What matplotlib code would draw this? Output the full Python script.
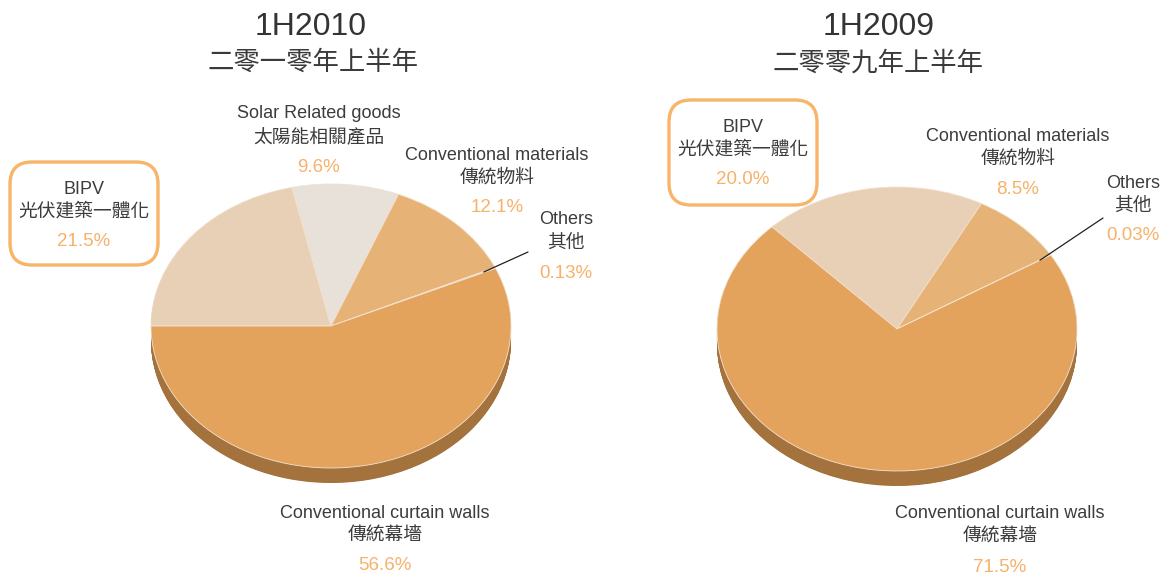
import matplotlib
matplotlib.use('Agg')
import matplotlib.pyplot as plt
from matplotlib.patches import FancyBboxPatch
from matplotlib.transforms import IdentityTransform
import numpy as np

plt.rcParams['font.family'] = ['Liberation Sans', 'Noto Sans CJK TC', 'DejaVu Sans']

W, H = 1167, 575

# ---- data ----
titles = ['1H2010', '1H2009']
titles_zh = ['二零一零年上半年', '二零零九年上半年']

cats_2010 = ['BIPV', 'Solar Related goods', 'Conventional materials', 'Others', 'Conventional curtain walls']
cats_2010_zh = ['光伏建築一體化', '太陽能相關產品', '傳統物料', '其他', '傳統幕墻']
share_2010 = [21.5, 9.6, 12.1, 0.13, 56.6]
pct_2010 = ['21.5%', '9.6%', '12.1%', '0.13%', '56.6%']

cats_2009 = ['BIPV', 'Conventional materials', 'Others', 'Conventional curtain walls']
cats_2009_zh = ['光伏建築一體化', '傳統物料', '其他', '傳統幕墻']
share_2009 = [20.0, 8.5, 0.03, 71.5]
pct_2009 = ['20.0%', '8.5%', '0.03%', '71.5%']

# ---- styling ----
col = {'BIPV': '#e8d0b7', 'Solar Related goods': '#e7e1d9',
       'Conventional materials': '#e6b275', 'Others': '#ede5dc',
       'Conventional curtain walls': '#e3a35c'}
side_col = '#a3723d'
txt_col = '#3c3c3c'
pct_col = '#f6b26b'

RX, RY = 180.0, 142.0     # pie radii in pixels
DEPTH = 15.0 / RY         # pie thickness in y data units

fig = plt.figure(figsize=(W / 100, H / 100), dpi=100)


def draw_pie(left, width, cx, cy, shares, cats, start):
    ax = fig.add_axes([left / W, 0, width / W, 1])
    colors = [col[c] for c in cats]
    for k in np.linspace(DEPTH, 0.004, 30):
        ax.pie(shares, colors=[side_col] * len(shares), startangle=start,
               counterclock=False, center=(0, -k), wedgeprops=dict(linewidth=0))
    wedges, _ = ax.pie(shares, colors=colors, startangle=start, counterclock=False,
                       wedgeprops=dict(edgecolor='#f4e2cf', linewidth=0.6))
    ax.set_aspect('auto')
    ax.set_xlim(-(cx - left) / RX, (left + width - cx) / RX)
    ax.set_ylim(-(H - cy) / RY, cy / RY)
    ax.axis('off')
    return ax, wedges


def label(x, y, en, zh, pct, dy=(0, 23, 53)):
    fig.text(x / W, 1 - (y + dy[0]) / H, en, ha='center', va='center', fontsize=13, color=txt_col)
    fig.text(x / W, 1 - (y + dy[1]) / H, zh, ha='center', va='center', fontsize=13.5,
             color=txt_col, fontweight='light')
    fig.text(x / W, 1 - (y + dy[2]) / H, pct, ha='center', va='center', fontsize=13.5, color=pct_col)


def box(x0, y0, x1, y1):
    p = FancyBboxPatch((x0, H - y1), x1 - x0, y1 - y0, boxstyle='round,pad=0,rounding_size=22',
                       transform=IdentityTransform(), fill=False, edgecolor='#f8b469', linewidth=2.4)
    fig.patches.append(p)


def leader(ax, wedge, tx, ty):
    t = np.deg2rad((wedge.theta1 + wedge.theta2) / 2)
    ax.annotate('', xy=(0.93 * np.cos(t), 0.93 * np.sin(t)), xycoords='data',
                xytext=(tx, H - ty), textcoords='figure pixels',
                arrowprops=dict(arrowstyle='-', color='#222222', lw=0.9, shrinkA=0, shrinkB=0))


# ---- 1H2010 ----
ax1, w1 = draw_pie(0, 583, 331, 326, share_2010, cats_2010, 180)
fig.text(311 / W, 1 - 27 / H, titles[0], ha='center', va='center', fontsize=23, color='#333333')
fig.text(313 / W, 1 - 62 / H, titles_zh[0], ha='center', va='center', fontsize=19,
         color='#3a3a3a', fontweight='light')
pos_2010 = [(84, 189), (319, 114), (497, 155), (566, 220), (385, 513)]
for (x, y), en, zh, p in zip(pos_2010, cats_2010, cats_2010_zh, pct_2010):
    label(x, y, en, zh, p)
box(10, 162, 158, 265)
leader(ax1, w1[3], 528, 252)

# ---- 1H2009 ----
ax2, w2 = draw_pie(583, 584, 897, 329, share_2009, cats_2009, 134)
fig.text(879 / W, 1 - 27 / H, titles[1], ha='center', va='center', fontsize=23, color='#333333')
fig.text(878 / W, 1 - 63 / H, titles_zh[1], ha='center', va='center', fontsize=19,
         color='#3a3a3a', fontweight='light')
pos_2009 = [(743, 127), (1018, 136), (1133, 183), (1000, 514)]
for (x, y), en, zh, p in zip(pos_2009, cats_2009, cats_2009_zh, pct_2009):
    label(x, y, en, zh, p)
box(669, 100, 817, 205)
leader(ax2, w2[2], 1103, 218)

fig.savefig('out.png', dpi=100)
